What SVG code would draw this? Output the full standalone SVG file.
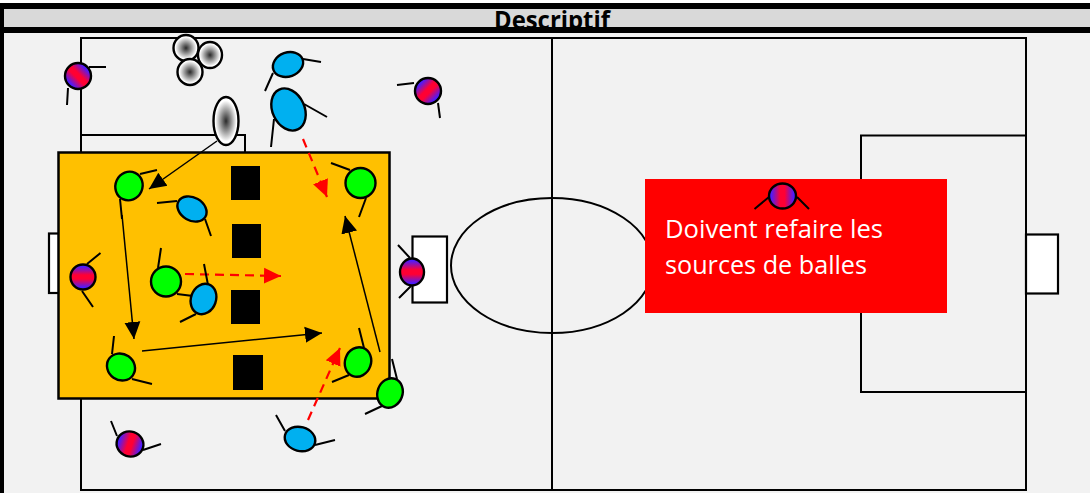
<svg xmlns="http://www.w3.org/2000/svg" width="1090" height="493" viewBox="0 0 1090 493">
<style>
.f{fill:none;stroke:#000;stroke-width:2}
.w{fill:#fff;stroke:#000;stroke-width:2.200}
.p{stroke:#000;stroke-width:2.400}
.l{stroke:#000;stroke-width:2;fill:none}
.g{fill:#00ff00}
.b{fill:#00b0f0}
.m{fill:url(#mg)}
.ball{fill:url(#bg);stroke:#000;stroke-width:2.400}
.k{stroke:#000;stroke-width:1.500;fill:none}
.r{stroke:#ff0000;stroke-width:2.200;stroke-dasharray:9 6;fill:none}
.sq{fill:#000}
text{font-family:"Open Sans","Liberation Sans",sans-serif}
</style>
<defs>
<linearGradient id="mg" x1="0" y1="0" x2="1" y2="0"><stop offset=".08" stop-color="#4a1cff"/><stop offset=".42" stop-color="#ff0033"/><stop offset=".58" stop-color="#ff0033"/><stop offset=".92" stop-color="#4a1cff"/></linearGradient>
<radialGradient id="bg"><stop offset="0" stop-color="#2a2a2a"/><stop offset=".85" stop-color="#fff"/><stop offset="1" stop-color="#fff"/></radialGradient>
<marker id="ka" markerUnits="userSpaceOnUse" markerWidth="18" markerHeight="18" refX="17" refY="9" orient="auto"><path d="M0 1L17 9L0 17Z" fill="#000"/></marker>
<marker id="ra" markerUnits="userSpaceOnUse" markerWidth="18" markerHeight="18" refX="17" refY="9" orient="auto"><path d="M0 1L17 9L0 17Z" fill="#ff0000"/></marker>
<clipPath id="hc"><rect x="4" y="9" width="1086" height="18"/></clipPath>
</defs>
<rect width="1090" height="493" fill="#f2f2f2"/>
<rect width="1090" height="3" fill="#fff"/>
<g id="header">
<rect x="0" y="3" width="1090" height="30" fill="#000"/>
<rect x="4" y="9" width="1086" height="18" fill="#d9d9d9"/>
<text x="494" y="29" font-size="25" font-weight="700" fill="#000" textLength="116" lengthAdjust="spacingAndGlyphs" clip-path="url(#hc)">Descriptif</text>
<rect x="0" y="33" width="4" height="460" fill="#000"/>
</g>
<g id="field">
<rect class="f" x="81" y="38" width="945" height="452"/>
<path class="f" d="M552 38V490"/>
<ellipse class="f" cx="552" cy="265.500" rx="101" ry="67.500"/>
<rect class="f" x="81" y="135" width="164" height="40"/>
<rect class="f" x="861" y="135.500" width="165" height="256.500"/>
<rect class="w" x="49" y="233.500" width="20" height="59.500"/>
<rect class="w" x="1026" y="234.500" width="32" height="59"/>
</g>
<g id="zone">
<rect x="58.500" y="152.500" width="331" height="246" fill="#ffc000" stroke="#000" stroke-width="2.500"/>
<rect class="sq" x="231" y="166" width="29" height="34"/>
<rect class="sq" x="232" y="224" width="29" height="34"/>
<rect class="sq" x="231" y="290" width="29" height="34"/>
<rect class="sq" x="233" y="355" width="30" height="35"/>
</g>
<rect id="goal" class="w" x="412.500" y="236.500" width="34.500" height="66"/>
<g id="callout">
<rect x="645" y="179" width="302" height="134" fill="#ff0000"/>
<text x="665" y="238" font-size="26" fill="#fff" textLength="218" lengthAdjust="spacingAndGlyphs">Doivent refaire les</text>
<text x="665" y="274" font-size="26" fill="#fff" textLength="202" lengthAdjust="spacingAndGlyphs">sources de balles</text>
</g>
<g id="balls">
<ellipse id="ball1" class="ball" cx="186" cy="48" rx="12.500" ry="13"/>
<ellipse id="ball2" class="ball" cx="210" cy="55" rx="12" ry="13"/>
<ellipse id="ball3" class="ball" cx="190" cy="72" rx="12.500" ry="13" stroke-width="3"/>
<ellipse id="ball4" class="ball" cx="226" cy="121" rx="12.500" ry="24"/>
</g>
<g id="connectors">
<path class="k" d="M217 141L149 189" marker-end="url(#ka)"/>
<path class="k" d="M122 215L134 339" marker-end="url(#ka)"/>
<path class="k" d="M142 351L322 333" marker-end="url(#ka)"/>
<path class="k" d="M380 352L345 216" marker-end="url(#ka)"/>
<path class="r" d="M303 139L327 197" marker-end="url(#ra)"/>
<path class="r" d="M185 274L281 276" marker-end="url(#ra)"/>
<path class="r" d="M308 420L340 348" marker-end="url(#ra)"/>
</g>
<g id="p1"><path class="l" d="M89 67H106M68 88L67 105"/><ellipse class="p m" cx="78" cy="76" rx="13" ry="13" transform="rotate(-45 78 76)"/></g>
<g id="p2"><path class="l" d="M414 83L397 85M438 103L440 118"/><ellipse class="p m" cx="428" cy="91" rx="13" ry="13" transform="rotate(45 428 91)"/></g>
<g id="p3"><path class="l" d="M303 59L321 62M273 73L265 91"/><ellipse class="p b" cx="288" cy="64.500" rx="15.500" ry="12" transform="rotate(-20 288 64.500)"/></g>
<g id="p4"><path class="l" d="M304 104L327 117M274 119L271 147"/><ellipse class="p b" cx="288.500" cy="109.500" rx="16" ry="22" transform="rotate(-25 288.500 109.500)"/></g>
<g id="p5"><path class="l" d="M140 174L157 170M120 199L122 219"/><ellipse class="p g" cx="129" cy="186" rx="13.500" ry="14.500" transform="rotate(25 129 186)"/></g>
<g id="p6"><path class="l" d="M177 201L157 203M205 219L211 236"/><ellipse class="p b" cx="192" cy="209" rx="15.500" ry="11.500" transform="rotate(30 192 209)"/></g>
<g id="p7"><path class="l" d="M350 170L331 163M366 198L359 217"/><ellipse class="p g" cx="360.500" cy="183" rx="15" ry="15"/></g>
<g id="p8"><path class="l" d="M87 264L100.500 253M82 291L93 307"/><ellipse class="p m" cx="83" cy="277" rx="12.500" ry="12.500" transform="rotate(90 83 277)"/></g>
<g id="p9"><path class="l" d="M158 268L161 248M177 294L193 296"/><ellipse class="p g" cx="166" cy="281.500" rx="15" ry="15"/></g>
<g id="p10"><path class="l" d="M208 285L204 264M196 314L180 322"/><ellipse class="p b" cx="203.500" cy="299" rx="12.500" ry="15.500" transform="rotate(20 203.500 299)"/></g>
<g id="p11"><path class="l" d="M112 354L114 336M132 379L152 384"/><ellipse class="p g" cx="121" cy="367" rx="14.500" ry="13" transform="rotate(35 121 367)"/></g>
<g id="p12"><path class="l" d="M364 348L359 328M349 375L332 382"/><ellipse class="p g" cx="358" cy="362" rx="13" ry="15" transform="rotate(20 358 362)"/></g>
<g id="p13"><path class="l" d="M397 379L392 359M382 406L365 414"/><ellipse class="p g" cx="390" cy="393" rx="12.500" ry="15" transform="rotate(20 390 393)"/></g>
<g id="p14"><path class="l" d="M410 258L398 245M411 286L399 298"/><ellipse class="p m" cx="412" cy="272" rx="13.500" ry="12" transform="rotate(90 412 272)"/></g>
<g id="p15"><path class="l" d="M117 436L111 421M143 450L161 444"/><ellipse class="p m" cx="130" cy="444" rx="13.500" ry="12.500" transform="rotate(18 130 444)"/></g>
<g id="p16"><path class="l" d="M285 431L276 415M315 445L335 440"/><ellipse class="p b" cx="300" cy="439" rx="15.500" ry="12" transform="rotate(15 300 439)"/></g>
<g id="p17"><path class="l" d="M769 197L754.500 209M797 197L809 209"/><ellipse class="p m" cx="782.500" cy="196" rx="13.500" ry="12.500"/></g>
</svg>
